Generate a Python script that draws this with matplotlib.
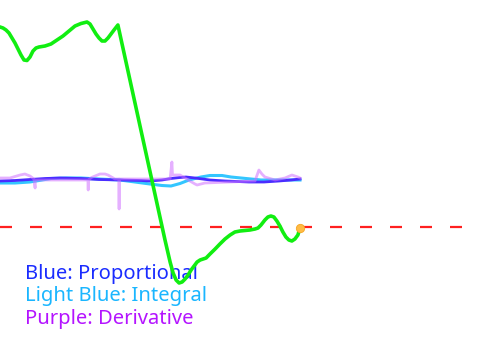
import matplotlib
matplotlib.use("Agg")
import matplotlib.pyplot as plt

plt.rcParams['font.family'] = ['Noto Sans', 'DejaVu Sans']

# process value (green), time steps 0..100
pv_t = [0, 1, 2, 3, 4, 5, 6, 7, 8, 9, 10, 11, 12, 13, 15, 17, 19, 21, 23, 25, 27, 29,
        30, 31, 32, 33, 34, 35, 36, 37, 38, 39.3, 55, 56.7, 57.7, 58.7, 59.7, 60.7,
        61.7, 62.7, 63.7, 64.7, 65.7, 66.7, 67.7, 68.7, 70, 71.7, 73.3, 75, 76.7,
        78.3, 80, 83.3, 85, 86, 87, 88.3, 89.3, 90.3, 91.3, 92.3, 93.3, 94.3, 95.3,
        96.3, 97.3, 98.3, 99.3, 100]
pv_val = [20.0, 19.9, 19.7, 19.4, 18.9, 18.4, 17.8, 17.2, 16.7, 16.65, 17.0, 17.6,
          17.9, 18.0, 18.1, 18.3, 18.7, 19.1, 19.6, 20.1, 20.35, 20.5, 20.3, 19.8,
          19.3, 18.9, 18.6, 18.6, 18.9, 19.3, 19.7, 20.2, -1.3, -3.5, -4.6, -5.3,
          -5.6, -5.5, -5.2, -4.8, -4.3, -3.9, -3.5, -3.3, -3.2, -3.1, -2.7, -2.2,
          -1.7, -1.2, -0.8, -0.5, -0.4, -0.3, -0.2, -0.1, 0.2, 0.7, 1.0, 1.1, 1.0,
          0.6, 0.1, -0.5, -1.0, -1.3, -1.4, -1.2, -0.8, -0.1]
setpoint = 0.0

# PID terms
p_t = [0, 5, 10, 15, 20, 27, 33, 40, 47, 50, 54, 57, 60, 62, 65, 70, 75, 83, 88, 93, 97, 100]
p_val = [4.6, 4.65, 4.75, 4.85, 4.9, 4.85, 4.75, 4.7, 4.65, 4.6, 4.7, 4.85, 4.95, 5.0,
         4.9, 4.7, 4.6, 4.5, 4.5, 4.6, 4.7, 4.8]

i_t = [0, 5, 10, 14, 17, 22, 27, 33, 40, 45, 50, 54, 57, 60, 63, 67, 70, 74, 77, 82,
       87, 93, 100]
i_val = [4.4, 4.4, 4.5, 4.7, 4.85, 4.9, 4.9, 4.8, 4.7, 4.5, 4.3, 4.15, 4.1, 4.35, 4.7,
         5.0, 5.15, 5.15, 5.0, 4.85, 4.7, 4.7, 4.7]

d_t = [0, 3.3, 5, 6.7, 8.3, 10, 11.3, 11.7, 11.8, 15, 29.3, 29.4, 29.5, 30.5, 31.7,
       33.3, 35, 36, 38.3, 39.6, 39.7, 39.8, 43.3, 53.3, 56.7, 57.3, 57.5, 60, 61.7,
       63.3, 65, 65.7, 68.3, 76.7, 85, 86.3, 87.3, 88.3, 91.7, 93.3, 95, 97.3, 99.3, 100]
d_val = [4.9, 4.9, 5.05, 5.2, 5.3, 5.1, 4.8, 3.9, 4.7, 4.7, 4.7, 3.7, 4.7, 4.95, 5.1,
         5.3, 5.3, 5.2, 4.8, 4.8, 1.8, 4.8, 4.8, 4.8, 4.8, 6.5, 5.2, 5.2, 4.9,
         4.6, 4.3, 4.2, 4.4, 4.5, 4.6, 5.7, 5.3, 5.0, 4.7, 4.8, 4.9, 5.2, 5.0, 4.9]

labels = ["Blue: Proportional", "Light Blue: Integral", "Purple: Derivative"]
label_colors = ["#1a2cff", "#1ab6ff", "#b414ff"]

fig = plt.figure(figsize=(4.8, 3.6), dpi=100)
ax = fig.add_axes([0, 0, 1, 1])
ax.set_xlim(0, 160)
ax.set_ylim(-13.3, 22.7)
ax.axis("off")

ax.axhline(setpoint, color="#ff2020", lw=1.6, linestyle=(0, (5.4, 8.1)), zorder=2)

ax.plot(i_t, i_val, color="#33c6ff", lw=2.2, zorder=3)
ax.plot(p_t, p_val, color="#4a2cff", lw=2.0, zorder=4)
ax.plot(d_t, d_val, color="#d070ff", lw=2.0, alpha=0.55, zorder=5)

ax.plot(pv_t, pv_val, color="#11ee11", lw=2.6, zorder=6, solid_joinstyle="round")
ax.plot(pv_t[-1], pv_val[-1], "o", color="#ffbb44", markersize=6,
        markeredgecolor="#f5a623", markeredgewidth=0.6, zorder=7)

for k, (txt, col) in enumerate(zip(labels, label_colors)):
    ax.text(0.052, 0.225 - k * 0.0625, txt, color=col, fontsize=14.5,
            transform=ax.transAxes, va="baseline", ha="left", zorder=1)

fig.savefig("out.png", dpi=100)
